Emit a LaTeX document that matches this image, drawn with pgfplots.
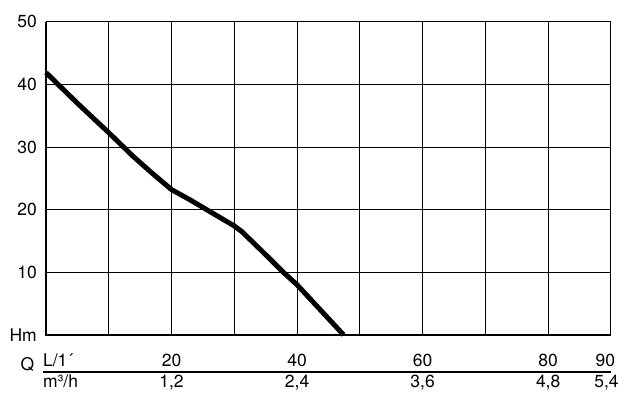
\documentclass[border=0pt]{standalone}
\usepackage{fontspec}
\setmainfont{TeX Gyre Heros}
\usepackage{pgfplots}
\pgfplotsset{compat=1.18}
\begin{document}
\fontsize{17.5}{20}\selectfont
\begin{tikzpicture}
\begin{axis}[
  scale only axis, width=565pt, height=313pt,
  xmin=0, xmax=90, ymin=0, ymax=50,
  xtick={10,20,...,90}, xticklabels={},
  ytick={0,10,...,50}, yticklabels={Hm,10,20,30,40,50},
  grid=major, major grid style={black, line width=1pt},
  tick style={draw=none},
  axis line style={black, line width=1pt},
  yticklabel style={anchor=east, inner sep=0pt, xshift=-9pt},
  /pgf/number format/assume math mode=true,
  clip=false,
]
\addplot[black, line width=5pt, line join=round] coordinates {
  (0,41.9) (5,37.0) (10,32.3) (13.9,28.5) (16.6,26.1) (20,23.2)
  (22.9,21.6) (26.1,19.7) (30,17.4) (31.2,16.5) (35,12.8)
  (37.8,10.0) (40,8.0) (47.4,0)
};
\draw[black, line width=2.2pt] (axis cs:0,50) -- (axis cs:0,0) -- (axis cs:90,0);
% Q rows
\draw[black, line width=2pt] (axis cs:-0.5,-5.96) -- (axis cs:90,-5.96);
\node[anchor=base west, inner sep=0pt] at (axis cs:-0.5,-5.11) {L/1´};
\node[anchor=base west, inner sep=0pt] at (axis cs:-0.5,-8.47) {m³/h};
\node[anchor=base, inner sep=0pt] at (axis cs:-2.95,-5.75) {Q};
\node[anchor=base, inner sep=0pt] at (axis cs:20,-5.11) {20};
\node[anchor=base, inner sep=0pt] at (axis cs:40,-5.11) {40};
\node[anchor=base, inner sep=0pt] at (axis cs:60,-5.11) {60};
\node[anchor=base, inner sep=0pt] at (axis cs:80,-5.11) {80};
\node[anchor=base, inner sep=0pt] at (axis cs:89.1,-5.11) {90};
\node[anchor=base, inner sep=0pt] at (axis cs:20,-8.47) {1,2};
\node[anchor=base, inner sep=0pt] at (axis cs:40,-8.47) {2,4};
\node[anchor=base, inner sep=0pt] at (axis cs:60,-8.47) {3,6};
\node[anchor=base, inner sep=0pt] at (axis cs:80,-8.47) {4,8};
\node[anchor=base, inner sep=0pt] at (axis cs:89.3,-8.47) {5,4};
\coordinate (bbA) at (axis cs:-7.33,-10.86);
\coordinate (bbB) at (axis cs:92.4,53.5);
\end{axis}
\pgfresetboundingbox
\path (bbA) rectangle (bbB);
\end{tikzpicture}
\end{document}
